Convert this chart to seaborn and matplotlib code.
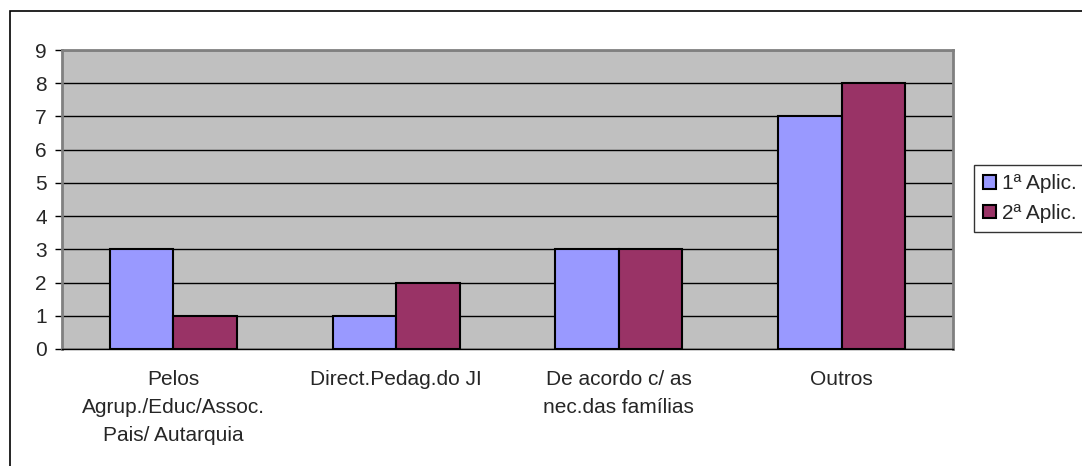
import pandas as pd
import matplotlib
matplotlib.use("Agg")
import matplotlib.pyplot as plt
import seaborn as sns
import numpy as np
from matplotlib.patches import Rectangle

# Chart data
categories = ["Pelos\nAgrup./Educ/Assoc.\nPais/ Autarquia",
              "Direct.Pedag.do JI",
              "De acordo c/ as\nnec.das famílias",
              "Outros"]
series_names = ["1ª Aplic.", "2ª Aplic."]
aplic1 = [3, 1, 3, 7]
aplic2 = [1, 2, 3, 8]

df = pd.DataFrame({
    "Categoria": categories * 2,
    "Aplicação": [series_names[0]] * 4 + [series_names[1]] * 4,
    "Valor": aplic1 + aplic2,
})

sns.set_style("white")
plt.rcParams["font.family"] = ["Liberation Sans", "DejaVu Sans"]

fig = plt.figure(figsize=(10.82, 4.66), dpi=100)
ax = fig.add_axes([62 / 1082, 1 - 349 / 466, (953 - 62) / 1082, (349 - 50) / 466])

colors = ["#9999FF", "#993366"]
sns.barplot(data=df, x="Categoria", y="Valor", hue="Aplicação", palette=colors,
            width=0.57, edgecolor="black", linewidth=1.5, saturation=1, ax=ax,
            zorder=3)

ax.set_facecolor("#C0C0C0")
ax.set_ylim(0, 9)
ax.set_xlim(-0.5, 3.5)
ax.set_yticks(range(0, 10))
ax.yaxis.grid(True, color="black", linewidth=1, zorder=0)
ax.set_axisbelow(True)
ax.set_xlabel("")
ax.set_ylabel("")

# Category separators as minor ticks
ax.set_xticks(np.arange(-0.5, 4, 1), minor=True)
ax.tick_params(axis="x", which="major", length=0, labelsize=15, pad=15)
ax.tick_params(axis="x", which="minor", length=5, width=1, color="black", direction="out")
ax.tick_params(axis="y", length=5, width=1, color="black", direction="out", labelsize=15, pad=6)
ax.tick_params(left=True, bottom=True)
for lbl in ax.get_xticklabels():
    lbl.set_linespacing(1.6)

for side in ["top", "right", "left"]:
    ax.spines[side].set_color("#808080")
    ax.spines[side].set_linewidth(2)
ax.spines["bottom"].set_color("black")
ax.spines["bottom"].set_linewidth(1)

leg = ax.legend(loc="upper left", bbox_to_anchor=(974 / 1082, 1 - 165 / 466),
                bbox_transform=fig.transFigure, frameon=True, fancybox=False,
                fontsize=15, handlelength=0.6, handleheight=0.6, handletextpad=0.3,
                borderpad=0.45, labelspacing=0.5, borderaxespad=0)
leg.get_frame().set_edgecolor("black")
leg.get_frame().set_linewidth(1)
for h in leg.legend_handles:
    h.set_edgecolor("black")
    h.set_linewidth(1.5)

# Outer chart border (left and top visible)
fig.patches.append(Rectangle((10 / 1082, -0.1), 1.2, 1 - 11 / 466 + 0.1,
                             transform=fig.transFigure, fill=False,
                             edgecolor="black", linewidth=1.2))

fig.savefig("out.png", dpi=100)
